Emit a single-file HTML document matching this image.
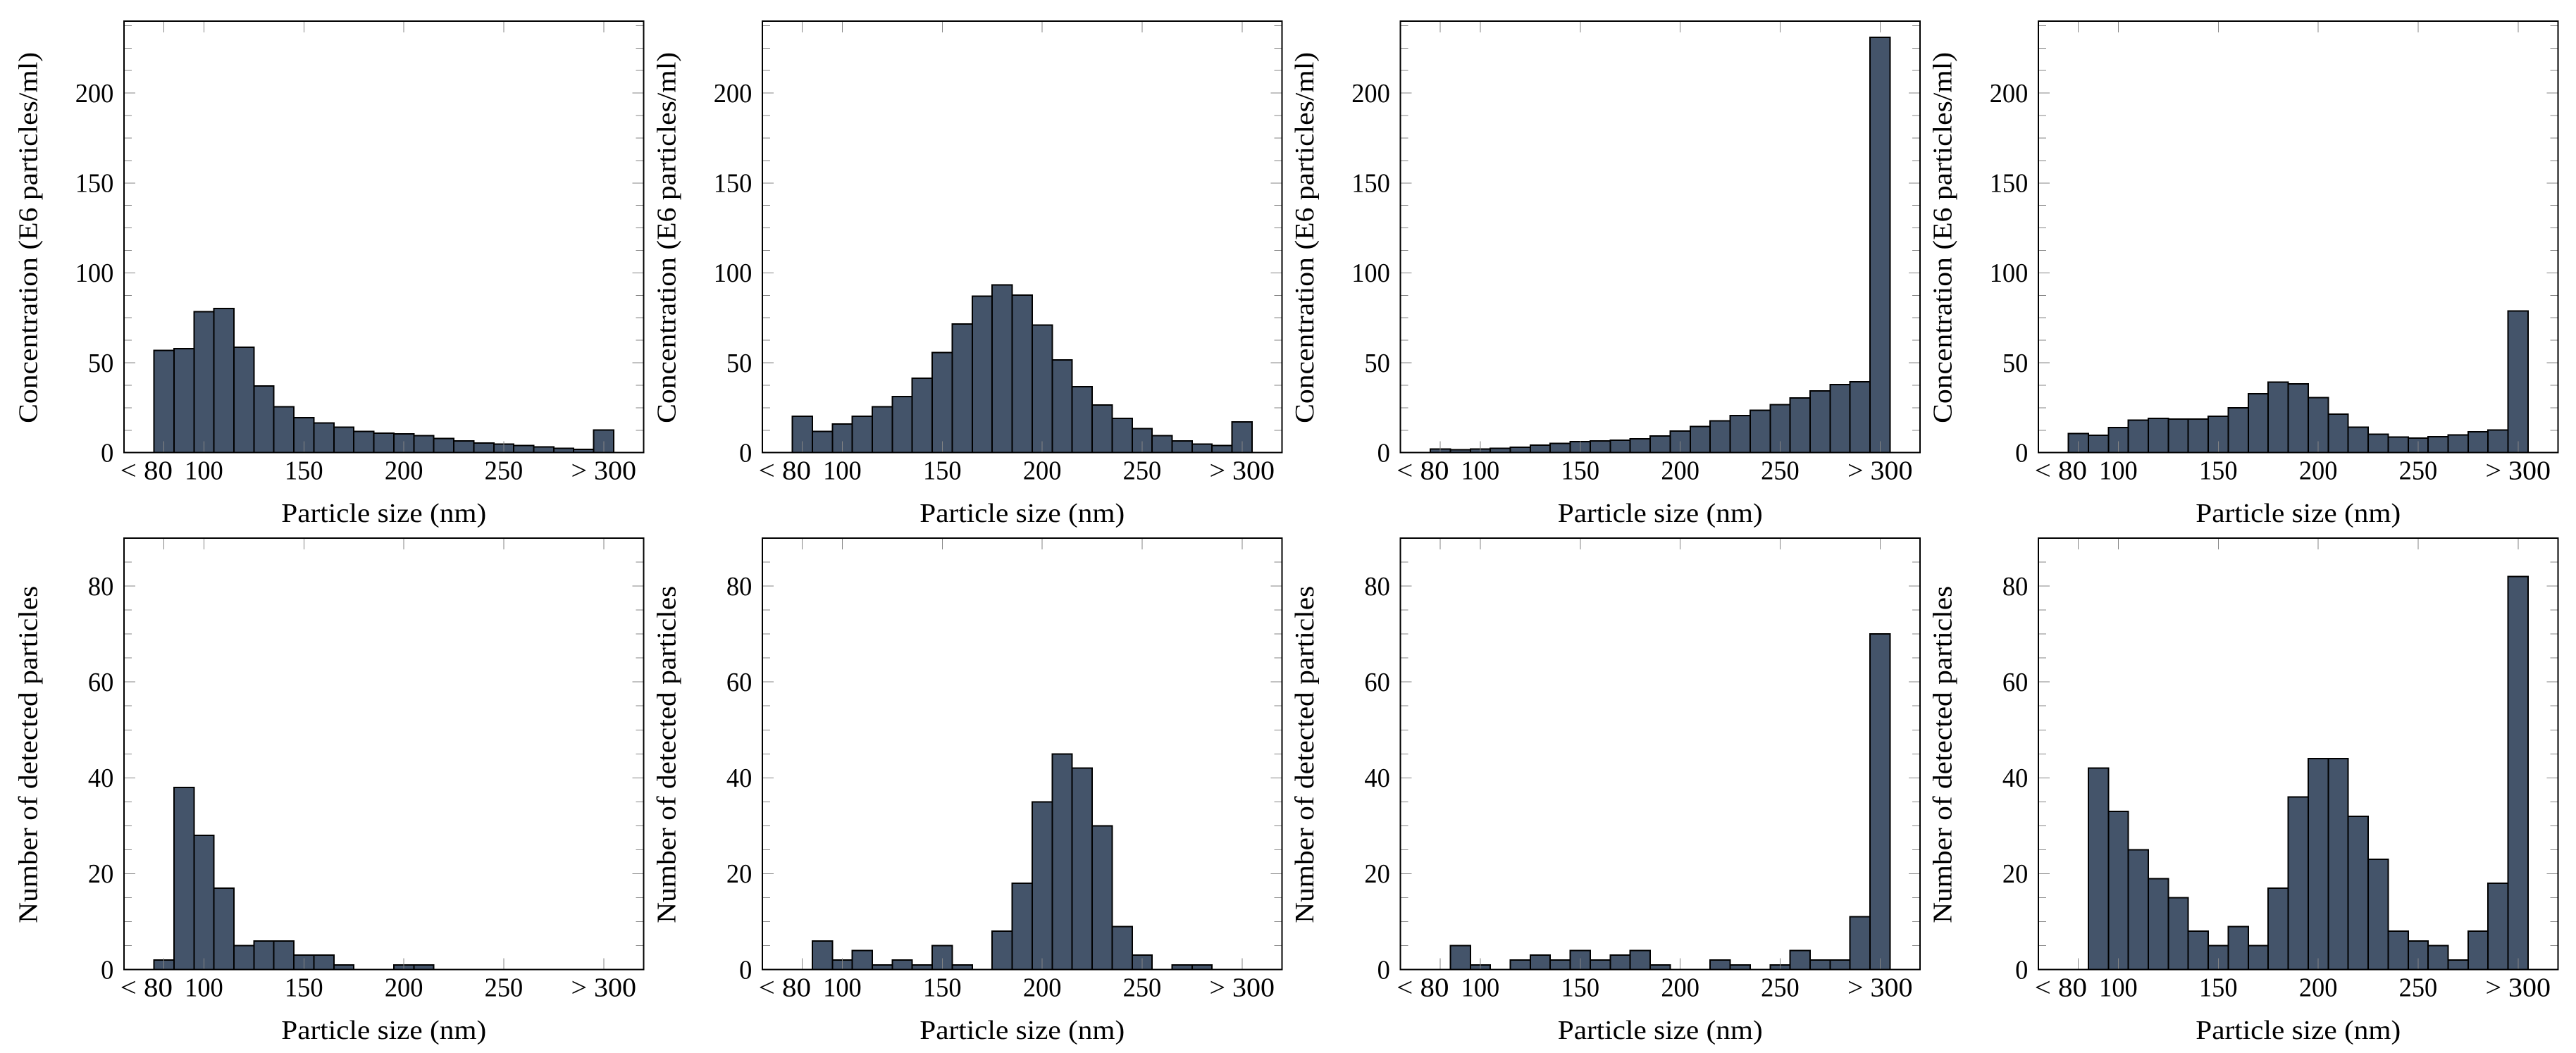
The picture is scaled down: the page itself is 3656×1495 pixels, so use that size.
<!DOCTYPE html>
<html lang="en">
<head>
<meta charset="utf-8">
<title>Particle size distributions</title>
<style>
  html, body { margin: 0; padding: 0; background: #fff; width: 3656px; height: 1495px; overflow: hidden; }
  svg { display: block; }
  text { font-family: "Liberation Serif", serif; font-size: 38px; fill: #000; }
  .crisp { shape-rendering: crispEdges; }
</style>
</head>
<body>
<svg id="chart" width="3656" height="1495" viewBox="0 0 3656 1495" xmlns="http://www.w3.org/2000/svg"></svg>
<script>
// Bin centres (nm)
const categories = [80, 90, 100, 110, 120, 130, 140, 150, 160, 170, 180, 190, 200, 210, 220, 230, 240, 250, 260, 270, 280, 290, 300];

// Top row: concentration (E6 particles/ml)
const concentrationA = [56.8, 57.9, 78.4, 80.2, 58.7, 37.1, 25.5, 19.5, 16.5, 14.1, 11.8, 10.9, 10.5, 9.4, 7.9, 6.6, 5.4, 4.7, 3.9, 3.2, 2.4, 1.9, 12.6];
const concentrationB = [20.2, 11.8, 15.9, 20.2, 25.5, 31.3, 41.4, 55.7, 71.6, 87, 93.3, 87.7, 70.9, 51.5, 36.7, 26.6, 19.1, 13.3, 9.4, 6.6, 4.7, 3.9, 17.2];
const concentrationC = [2.1, 1.7, 2.1, 2.4, 3, 4.1, 5.2, 6.2, 6.6, 6.9, 7.7, 9.2, 12, 14.6, 17.8, 20.6, 23.6, 26.8, 30.4, 34.3, 37.9, 39.4, 230.9];
const concentrationD = [10.7, 9.6, 13.9, 18, 19.1, 18.6, 18.6, 20.2, 24.9, 32.8, 39.2, 38.2, 30.7, 21.4, 14.2, 10.3, 8.6, 8.1, 8.8, 9.9, 11.6, 12.7, 78.9];

// Bottom row: number of detected particles
const countA = [2, 38, 28, 17, 5, 6, 6, 3, 3, 1, 0, 0, 1, 1, 0, 0, 0, 0, 0, 0, 0, 0, 0];
const countB = [0, 6, 2, 4, 1, 2, 1, 5, 1, 0, 8, 18, 35, 45, 42, 30, 9, 3, 0, 1, 1, 0, 0];
const countC = [0, 5, 1, 0, 2, 3, 2, 4, 2, 3, 4, 1, 0, 0, 2, 1, 0, 1, 4, 2, 2, 11, 70];
const countD = [0, 42, 33, 25, 19, 15, 8, 5, 9, 5, 17, 36, 44, 44, 32, 23, 8, 6, 5, 2, 8, 18, 82];

// Ticks and titles
const xTickValues = [80, 100, 150, 200, 250, 300];
const xTickLabels = ['< 80', '100', '150', '200', '250', '> 300'];
const concentrationTicks = [0, 50, 100, 150, 200];
const countTicks = [0, 20, 40, 60, 80];
const xTitle = 'Particle size (nm)';
const concentrationTitle = 'Concentration (E6 particles/ml)';
const countTitle = 'Number of detected particles';

const SVG_NS = 'http://www.w3.org/2000/svg';
const root = document.getElementById('chart');

const BAR_FILL = '#44546a';
const TICK_COLOR = '#858585';
const X_MIN = 60, X_MAX = 320, BIN_WIDTH = 10;
const PANEL_WIDTH = 737.5;
const panelLefts = [176, 1082, 1987.5, 2893];
const rows = [
  { key: 'concentration', top: 30, bottom: 642.7, yMax: 240, ticks: concentrationTicks, minorStep: 12.5, title: concentrationTitle, titleLen: 527, series: [concentrationA, concentrationB, concentrationC, concentrationD] },
  { key: 'count', top: 764, bottom: 1376.6, yMax: 90, ticks: countTicks, minorStep: 5, title: countTitle, titleLen: 479, series: [countA, countB, countC, countD] }
];

function make(tag, attrs, parent) {
  const node = document.createElementNS(SVG_NS, tag);
  for (const k in attrs) node.setAttribute(k, attrs[k]);
  parent.appendChild(node);
  return node;
}
function labelWidth(str) {
  const digits = str.replace(/[^0-9]/g, '').length;
  return digits * 18.2 + (/[<>]/.test(str) ? 38 : 0);
}

rows.forEach(function (row, r) {
  row.series.forEach(function (values, p) {
    const left = panelLefts[p];
    const right = left + PANEL_WIDTH;
    const xScale = function (v) { return left + (v - X_MIN) / (X_MAX - X_MIN) * PANEL_WIDTH; };
    const yScale = function (v) { return row.bottom - v / row.yMax * (row.bottom - row.top); };
    const tag = row.key + '-' + (p + 1);

    const panel = make('g', {}, root);
    
    

    // Bars
    categories.forEach(function (c, i) {
      const x0 = xScale(c - BIN_WIDTH / 2);
      const x1 = xScale(c + BIN_WIDTH / 2);
      const y = yScale(values[i]);
      const bar = make('rect', { x: x0, y: y, width: x1 - x0, height: row.bottom - y, fill: BAR_FILL, stroke: '#000', 'stroke-width': 2, class: 'crisp' }, panel);
      
      
    });

    // X ticks (bottom and top, major only)
    xTickValues.forEach(function (v, i) {
      const x = xScale(v);
      const bottomTick = make('line', { x1: x, x2: x, y1: row.bottom, y2: row.bottom - 16, stroke: TICK_COLOR, 'stroke-width': 1, class: 'crisp' }, panel);
      
      
      const topTick = make('line', { x1: x, x2: x, y1: row.top, y2: row.top + 16, stroke: TICK_COLOR, 'stroke-width': 1, class: 'crisp' }, panel);
      
      

      const str = xTickLabels[i];
      const isLow = str.charAt(0) === '<';
      const label = make('text', { x: isLow ? x + 12.3 : x, y: row.bottom + 37.7, 'text-anchor': isLow ? 'end' : 'middle', textLength: labelWidth(str), lengthAdjust: 'spacingAndGlyphs' }, panel);
      label.textContent = str;
      
      
    });

    // Y minor ticks
    for (let v = row.minorStep; v < row.yMax; v += row.minorStep) {
      const y = yScale(v);
      const isMajor = row.ticks.indexOf(v) >= 0;
      const len = isMajor ? 16 : 11;
      const leftTick = make('line', { x1: left, x2: left + len, y1: y, y2: y, stroke: TICK_COLOR, 'stroke-width': 1, class: 'crisp' }, panel);
      
      
      const rightTick = make('line', { x1: right, x2: right - len, y1: y, y2: y, stroke: TICK_COLOR, 'stroke-width': 1, class: 'crisp' }, panel);
      
      
    }

    // Y tick labels
    row.ticks.forEach(function (v) {
      const str = String(v);
      const label = make('text', { x: left - 14.7, y: yScale(v) + 12.7, 'text-anchor': 'end', textLength: labelWidth(str), lengthAdjust: 'spacingAndGlyphs' }, panel);
      label.textContent = str;
      
      
    });

    // Plot frame
    const frame = make('rect', { x: left, y: row.top, width: PANEL_WIDTH, height: row.bottom - row.top, fill: 'none', stroke: '#000', 'stroke-width': 2, class: 'crisp' }, panel);
    
    

    // X axis title
    const xt = make('text', { x: left + PANEL_WIDTH / 2, y: row.bottom + 98.3, 'text-anchor': 'middle', textLength: 291, lengthAdjust: 'spacingAndGlyphs' }, panel);
    xt.textContent = xTitle;
    
    

    // Y axis title
    const cy = (row.top + row.bottom) / 2 + 1;
    const yt = make('text', { x: 0, y: 0, 'text-anchor': 'middle', transform: 'translate(' + (left - 123.5) + ' ' + cy + ') rotate(-90)', textLength: row.titleLen, lengthAdjust: 'spacingAndGlyphs' }, panel);
    yt.textContent = row.title;
    
    
  });
});
</script>
</body>
</html>
